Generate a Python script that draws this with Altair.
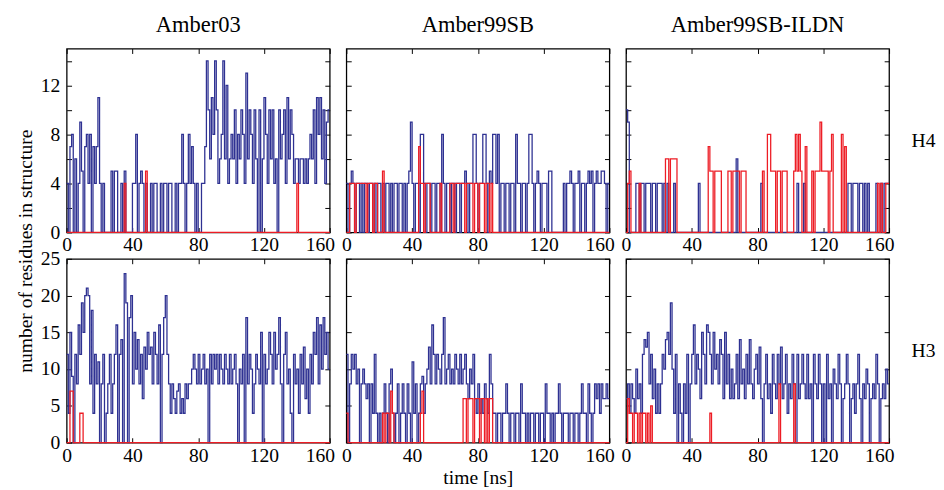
import altair as alt
import pandas as pd

FONT = "Liberation Serif"
BLUE = "#2E3192"
RED = "#ED1C24"

force_fields = ["Amber03", "Amber99SB", "Amber99SB-ILDN"]
helices = ["H4", "H3"]
x_ticks = [0, 40, 80, 120, 160]
h4_ticks = [0, 2, 4, 6, 8, 10, 12, 14]
h3_ticks = [0, 5, 10, 15, 20, 25]

# one value per ns, t = 0 .. 159
a03_h4_blue = [
    4, 0, 7, 8, 0, 6, 0, 4, 9, 5,
    0, 7, 8, 4, 8, 0, 7, 4, 7, 11,
    4, 0, 4, 0, 0, 0, 0, 5, 0, 5,
    5, 0, 0, 4, 0, 5, 0, 0, 0, 0,
    4, 4, 8, 0, 4, 5, 4, 0, 4, 0,
    0, 4, 0, 4, 4, 0, 0, 4, 0, 4,
    4, 0, 4, 4, 0, 0, 4, 0, 4, 4,
    8, 4, 0, 4, 8, 4, 7, 4, 0, 4,
    0, 0, 4, 4, 7, 14, 10, 6, 11, 8,
    14, 10, 4, 6, 8, 14, 6, 12, 4, 6,
    8, 6, 10, 4, 8, 6, 10, 8, 4, 13,
    6, 10, 8, 4, 10, 6, 0, 10, 0, 6,
    11, 8, 4, 10, 6, 10, 4, 6, 0, 10,
    6, 8, 10, 4, 11, 6, 10, 8, 4, 6,
    6, 4, 6, 6, 4, 6, 4, 6, 8, 6,
    10, 4, 11, 8, 11, 6, 10, 4, 9, 10,
]
a03_h4_red = [
    0, 0, 0, 0, 0, 0, 0, 0, 0, 0,
    0, 0, 0, 0, 0, 0, 0, 0, 0, 0,
    0, 0, 0, 0, 0, 0, 0, 0, 0, 0,
    0, 0, 0, 0, 0, 4, 0, 0, 0, 0,
    0, 0, 0, 0, 0, 0, 0, 0, 5, 0,
    0, 0, 0, 0, 0, 0, 0, 0, 0, 0,
    0, 0, 0, 0, 0, 0, 0, 0, 0, 0,
    0, 0, 0, 0, 0, 0, 0, 0, 0, 0,
    0, 0, 0, 0, 0, 0, 0, 0, 0, 0,
    0, 0, 0, 0, 0, 0, 0, 0, 0, 0,
    0, 0, 0, 0, 0, 0, 0, 0, 0, 0,
    0, 0, 0, 0, 0, 0, 0, 0, 0, 0,
    0, 0, 0, 0, 0, 0, 0, 0, 0, 0,
    0, 0, 0, 0, 0, 0, 0, 0, 0, 0,
    4, 0, 0, 0, 0, 0, 0, 0, 0, 0,
    0, 0, 0, 0, 0, 0, 0, 0, 0, 0,
]
a99_h4_blue = [
    4, 0, 4, 5, 4, 0, 4, 4, 0, 4,
    0, 4, 4, 0, 4, 4, 0, 4, 0, 4,
    4, 0, 4, 0, 4, 4, 0, 4, 0, 4,
    4, 0, 4, 4, 0, 4, 0, 4, 5, 9,
    4, 0, 4, 4, 0, 8, 8, 4, 0, 4,
    4, 0, 4, 4, 0, 4, 4, 0, 8, 4,
    0, 4, 4, 0, 4, 4, 0, 4, 4, 0,
    4, 4, 5, 4, 0, 4, 4, 8, 8, 4,
    0, 4, 4, 8, 8, 4, 0, 5, 4, 8,
    8, 4, 8, 0, 4, 4, 0, 4, 4, 0,
    4, 4, 0, 8, 4, 4, 0, 4, 4, 0,
    4, 8, 8, 4, 0, 4, 5, 4, 0, 4,
    4, 4, 0, 5, 5, 0, 0, 0, 0, 0,
    0, 0, 4, 0, 4, 4, 5, 4, 0, 4,
    4, 5, 0, 4, 4, 0, 4, 5, 4, 5,
    0, 4, 5, 4, 4, 5, 5, 4, 0, 4,
]
a99_h4_red = [
    0, 0, 4, 4, 4, 0, 4, 4, 4, 4,
    4, 4, 0, 4, 4, 4, 0, 4, 4, 0,
    0, 0, 5, 0, 0, 0, 0, 0, 0, 0,
    0, 0, 0, 0, 0, 0, 0, 0, 0, 0,
    0, 0, 0, 0, 7, 4, 4, 0, 4, 4,
    4, 0, 0, 0, 0, 0, 0, 4, 0, 0,
    0, 0, 0, 4, 4, 0, 4, 4, 4, 4,
    4, 4, 0, 4, 4, 4, 4, 0, 4, 4,
    0, 4, 4, 4, 0, 4, 4, 0, 4, 0,
    0, 0, 0, 0, 0, 0, 0, 0, 0, 0,
    0, 0, 0, 0, 0, 0, 0, 0, 0, 0,
    0, 0, 0, 0, 0, 0, 0, 0, 0, 0,
    0, 0, 0, 0, 0, 0, 0, 0, 0, 0,
    0, 0, 0, 0, 0, 0, 0, 0, 0, 0,
    0, 0, 0, 0, 0, 0, 0, 0, 0, 0,
    0, 0, 0, 0, 0, 0, 0, 0, 0, 0,
]
ildn_h4_blue = [
    10, 9, 0, 0, 0, 0, 4, 4, 0, 4,
    4, 0, 4, 4, 4, 0, 4, 4, 0, 4,
    4, 4, 0, 4, 0, 4, 0, 0, 0, 4,
    0, 0, 0, 0, 0, 0, 0, 0, 0, 0,
    0, 0, 0, 0, 4, 0, 0, 0, 0, 0,
    0, 0, 0, 0, 0, 0, 0, 0, 0, 0,
    0, 0, 0, 0, 0, 0, 0, 6, 0, 0,
    0, 0, 0, 0, 0, 0, 0, 0, 0, 0,
    0, 0, 4, 0, 0, 0, 0, 0, 0, 0,
    0, 0, 0, 0, 0, 0, 0, 0, 0, 0,
    0, 0, 0, 0, 4, 0, 0, 0, 4, 0,
    0, 0, 0, 0, 0, 0, 0, 0, 0, 0,
    0, 0, 0, 0, 0, 0, 0, 0, 0, 0,
    0, 0, 0, 0, 0, 4, 4, 0, 4, 4,
    4, 0, 4, 4, 0, 4, 0, 4, 0, 0,
    0, 0, 4, 0, 0, 4, 0, 4, 4, 4,
]
ildn_h4_red = [
    0, 4, 5, 0, 0, 0, 0, 0, 4, 0,
    0, 0, 0, 0, 0, 0, 0, 0, 0, 0,
    0, 0, 0, 0, 6, 6, 0, 6, 6, 6,
    6, 0, 0, 0, 0, 0, 0, 0, 0, 0,
    0, 0, 0, 0, 0, 0, 0, 0, 0, 0,
    7, 5, 5, 0, 5, 5, 5, 5, 0, 0,
    0, 0, 5, 5, 0, 5, 5, 5, 5, 0,
    5, 5, 5, 0, 0, 0, 0, 0, 0, 0,
    0, 0, 0, 5, 0, 0, 8, 8, 5, 5,
    5, 0, 5, 5, 0, 5, 5, 5, 0, 0,
    0, 0, 5, 8, 5, 8, 5, 0, 0, 7,
    0, 0, 0, 5, 0, 5, 5, 5, 9, 5,
    5, 5, 5, 0, 5, 8, 0, 0, 0, 0,
    0, 8, 0, 7, 0, 0, 0, 0, 0, 0,
    0, 0, 0, 0, 0, 0, 0, 0, 0, 0,
    0, 0, 0, 4, 0, 4, 0, 0, 4, 4,
]
a03_h3_blue = [
    12, 4, 15, 9, 0, 12, 8, 16, 12, 19,
    15, 20, 21, 20, 8, 18, 4, 12, 8, 11,
    0, 8, 12, 0, 4, 8, 12, 4, 8, 12,
    16, 0, 12, 14, 0, 23, 19, 0, 17, 20,
    8, 15, 10, 14, 8, 12, 6, 13, 10, 15,
    12, 13, 8, 15, 12, 8, 16, 0, 12, 17,
    20, 12, 8, 4, 8, 6, 4, 7, 8, 4,
    6, 4, 8, 6, 8, 8, 10, 12, 10, 8,
    12, 8, 10, 12, 8, 10, 0, 12, 8, 12,
    10, 12, 8, 12, 10, 8, 12, 10, 8, 12,
    8, 10, 12, 8, 0, 10, 8, 12, 0, 17,
    8, 12, 10, 4, 8, 12, 10, 8, 15, 0,
    12, 8, 10, 15, 12, 8, 15, 10, 12, 17,
    8, 0, 12, 15, 8, 10, 4, 0, 12, 8,
    10, 4, 12, 8, 13, 6, 10, 4, 12, 8,
    15, 12, 17, 8, 16, 10, 17, 12, 15, 10,
]
a03_h3_red = [
    0, 0, 7, 7, 0, 0, 0, 0, 4, 4,
    0, 0, 0, 0, 0, 0, 0, 0, 0, 0,
    0, 0, 0, 0, 0, 0, 0, 0, 0, 0,
    0, 0, 0, 0, 0, 0, 0, 0, 0, 0,
    0, 0, 0, 0, 0, 0, 0, 0, 0, 0,
    0, 0, 0, 0, 0, 0, 0, 0, 0, 0,
    0, 0, 0, 0, 0, 0, 0, 0, 0, 0,
    0, 0, 0, 0, 0, 0, 0, 0, 0, 0,
    0, 0, 0, 0, 0, 0, 0, 0, 0, 0,
    0, 0, 0, 0, 0, 0, 0, 0, 0, 0,
    0, 0, 0, 0, 0, 0, 0, 0, 0, 0,
    0, 0, 0, 0, 0, 0, 0, 0, 0, 0,
    0, 0, 0, 0, 0, 0, 0, 0, 0, 0,
    0, 0, 0, 0, 0, 0, 0, 0, 0, 0,
    0, 0, 0, 0, 0, 0, 0, 0, 0, 0,
    0, 0, 0, 0, 0, 0, 0, 0, 0, 0,
]
a99_h3_blue = [
    12, 0, 8, 12, 10, 12, 8, 10, 0, 8,
    10, 8, 6, 8, 0, 8, 4, 12, 4, 0,
    4, 0, 4, 8, 4, 0, 8, 10, 4, 0,
    4, 8, 0, 4, 8, 4, 0, 8, 4, 0,
    11, 4, 8, 0, 4, 8, 9, 4, 8, 10,
    13, 8, 16, 12, 8, 12, 10, 8, 12, 17,
    8, 10, 12, 8, 10, 8, 12, 10, 8, 12,
    8, 10, 12, 8, 6, 10, 8, 12, 6, 4,
    8, 4, 6, 4, 8, 6, 4, 12, 8, 4,
    4, 0, 4, 4, 0, 4, 4, 8, 4, 0,
    4, 4, 0, 4, 4, 0, 8, 4, 4, 0,
    4, 0, 4, 4, 0, 4, 4, 0, 4, 4,
    0, 8, 4, 4, 0, 4, 0, 4, 4, 8,
    4, 0, 4, 4, 4, 0, 4, 4, 0, 4,
    4, 0, 4, 8, 4, 4, 0, 8, 4, 0,
    4, 8, 6, 8, 4, 8, 6, 6, 8, 6,
]
a99_h3_red = [
    4, 0, 0, 0, 0, 0, 0, 0, 0, 0,
    0, 0, 0, 0, 0, 0, 0, 0, 0, 0,
    0, 0, 4, 0, 4, 4, 0, 7, 4, 0,
    0, 0, 0, 0, 0, 0, 0, 0, 0, 0,
    0, 0, 0, 0, 0, 4, 7, 0, 0, 0,
    0, 0, 0, 0, 0, 0, 0, 0, 0, 0,
    0, 0, 0, 0, 0, 0, 0, 0, 0, 0,
    0, 6, 6, 0, 6, 6, 6, 0, 6, 6,
    6, 0, 6, 6, 0, 6, 0, 6, 6, 0,
    0, 0, 0, 0, 0, 0, 0, 0, 0, 0,
    0, 0, 0, 0, 0, 0, 0, 0, 0, 0,
    0, 0, 0, 0, 0, 0, 0, 0, 0, 0,
    0, 0, 0, 0, 0, 0, 0, 0, 0, 0,
    0, 0, 0, 0, 0, 0, 0, 0, 0, 0,
    0, 0, 0, 0, 0, 0, 0, 0, 0, 0,
    0, 0, 0, 0, 0, 0, 0, 0, 0, 0,
]
ildn_h3_blue = [
    6, 8, 4, 8, 6, 4, 10, 6, 8, 4,
    12, 14, 13, 15, 8, 12, 6, 10, 4, 8,
    4, 8, 12, 10, 14, 15, 12, 19, 10, 4,
    12, 0, 8, 4, 0, 8, 4, 12, 0, 8,
    12, 16, 8, 12, 10, 6, 15, 12, 8, 16,
    15, 12, 8, 15, 10, 12, 8, 14, 12, 6,
    15, 8, 12, 6, 10, 6, 8, 12, 6, 14,
    8, 10, 6, 12, 8, 14, 8, 6, 10, 12,
    8, 13, 6, 0, 8, 12, 6, 8, 4, 12,
    8, 6, 12, 8, 13, 6, 8, 12, 4, 8,
    6, 12, 8, 0, 12, 6, 8, 12, 8, 6,
    12, 6, 8, 0, 12, 8, 6, 12, 8, 0,
    8, 0, 12, 6, 8, 0, 10, 8, 6, 12,
    8, 0, 6, 8, 12, 8, 0, 6, 8, 4,
    8, 12, 6, 0, 8, 6, 10, 8, 0, 6,
    8, 6, 12, 8, 0, 6, 8, 6, 10, 8,
]
ildn_h3_red = [
    0, 6, 4, 4, 0, 4, 4, 0, 4, 0,
    4, 4, 0, 4, 0, 5, 0, 0, 0, 0,
    0, 0, 0, 0, 0, 0, 0, 0, 0, 0,
    0, 0, 0, 0, 0, 0, 0, 0, 0, 0,
    0, 0, 0, 0, 0, 0, 0, 0, 0, 0,
    0, 4, 0, 0, 0, 0, 0, 0, 0, 0,
    0, 0, 0, 0, 0, 0, 0, 0, 0, 0,
    0, 0, 0, 0, 0, 0, 0, 0, 0, 0,
    0, 0, 0, 0, 0, 0, 0, 0, 0, 0,
    0, 0, 0, 8, 0, 0, 0, 0, 0, 0,
    0, 0, 8, 0, 0, 0, 0, 0, 0, 0,
    0, 0, 0, 0, 0, 0, 0, 0, 0, 0,
    0, 0, 0, 0, 0, 0, 0, 0, 0, 0,
    0, 0, 0, 0, 0, 0, 0, 0, 0, 0,
    0, 0, 0, 0, 0, 0, 0, 0, 0, 0,
    0, 0, 0, 0, 0, 0, 0, 0, 0, 0,
]

series = {
    ("H4", 0): (a03_h4_blue, a03_h4_red),
    ("H4", 1): (a99_h4_blue, a99_h4_red),
    ("H4", 2): (ildn_h4_blue, ildn_h4_red),
    ("H3", 0): (a03_h3_blue, a03_h3_red),
    ("H3", 1): (a99_h3_blue, a99_h3_red),
    ("H3", 2): (ildn_h3_blue, ildn_h3_red),
}

W, H = 269, 188
INWARD = alt.ExprRef(expr="-5")


def panel(row, col):
    helix = helices[row]
    blue, red = series[(helix, col)]
    n = len(blue)
    df = pd.DataFrame({
        "t": list(range(n)) + [n],
        "blue": blue + [blue[-1]],
        "red": red + [red[-1]],
    })
    ymax = 15 if helix == "H4" else 25
    yticks = h4_ticks if helix == "H4" else h3_ticks
    xs = alt.Scale(domain=[0, 160], nice=False, zero=False)
    ys = alt.Scale(domain=[0, ymax], nice=False)

    xb = dict(orient="bottom", values=x_ticks, tickSize=INWARD, labelPadding=8,
              labelFlush=True, labelFlushOffset=5, domain=False, title=None)
    if row == 1 and col == 1:
        xb.update(title="time [ns]", titlePadding=3)
    yl = dict(orient="left", values=yticks, tickSize=INWARD, labelPadding=12,
              domain=False, title=None, labels=(col == 0))
    if helix == "H4":
        yl["labelExpr"] = "datum.value % 4 == 0 ? datum.label : ''"
    yr = dict(orient="right", values=yticks, tickSize=INWARD, labels=False,
              domain=False, title=None)
    if col == 2:
        yr.update(title=helix, titleAngle=0, titleAlign="left",
                  titleBaseline="middle", titlePadding=22)

    base = alt.Chart(df)
    blue_line = base.mark_line(interpolate="step-after", color=BLUE, strokeWidth=1.3).encode(
        x=alt.X("t:Q", scale=xs, axis=alt.Axis(**xb)),
        y=alt.Y("blue:Q", scale=ys, axis=alt.Axis(**yl)),
    )
    red_line = base.mark_line(interpolate="step-after", color=RED, strokeWidth=1.3).encode(
        x=alt.X("t:Q", scale=xs,
                axis=alt.Axis(orient="top", values=x_ticks, tickSize=INWARD,
                              labels=False, domain=False, title=None)),
        y=alt.Y("red:Q", scale=ys, axis=alt.Axis(**yr)),
    )
    props = dict(width=W, height=H)
    if row == 0:
        props["title"] = alt.Title(force_fields[col], fontSize=23, offset=11, anchor="middle")
    return alt.layer(blue_line, red_line).resolve_axis(
        x="independent", y="independent").properties(**props)


charts = [panel(r, c) for r in range(2) for c in range(3)]

chart = alt.concat(
    *charts, columns=3, spacing={"row": 27, "column": 17}, bounds="flush"
).properties(
    title=alt.Title("number of residues in structure", orient="left", anchor="middle",
                    fontSize=20, offset=4),
    padding={"left": 8, "top": 0, "right": 0, "bottom": 0},
).configure_axis(
    labelFont=FONT, labelFontSize=20, labelColor="black",
    titleFont=FONT, titleFontSize=20, titleFontWeight="normal", titleColor="black",
    tickColor="black", tickWidth=1, grid=False,
).configure_title(
    font=FONT, fontWeight="normal", color="black",
).configure_view(
    stroke="black", strokeWidth=1.3,
)

chart.save("out.html", embed_options={"renderer": "svg", "actions": False})
